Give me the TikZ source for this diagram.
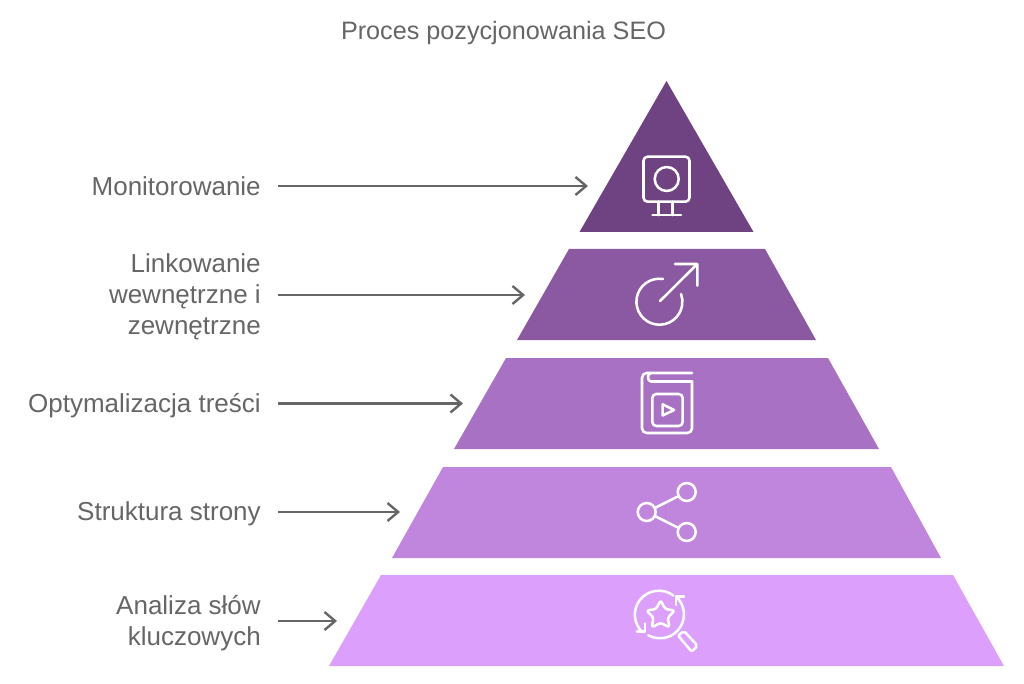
\documentclass[tikz,border=0pt]{standalone}
\usepackage{fontspec}
\setmainfont{Liberation Sans}
\usetikzlibrary{arrows.meta}
\definecolor{txtgray}{HTML}{666666}
\definecolor{lvlA}{HTML}{6F4382}
\definecolor{lvlB}{HTML}{8A59A1}
\definecolor{lvlC}{HTML}{A871C3}
\definecolor{lvlD}{HTML}{C086DD}
\definecolor{lvlE}{HTML}{DC9FFB}
\tikzset{
  lbl/.style={anchor=east,align=right,text=txtgray,inner xsep=12.75pt,inner ysep=0pt,
    font=\fontsize{19.5}{23.25}\selectfont},
  arr/.style={draw=txtgray,line width=1.8pt,-{Straight Barb[length=8pt,width=13.5pt,line width=1.8pt]}},
  ico/.style={draw=white,line width=1.9pt,line cap=round,line join=round},
}
\begin{document}
\begin{tikzpicture}[x=0.75pt,y=-0.75pt]
\useasboundingbox (0,0) rectangle (1024,684);
\node[text=txtgray,font=\fontsize{18.9}{22}\selectfont] (title) at (503.5,32.5) {Proces pozycjonowania SEO};
% pyramid levels
\fill[lvlA] (666.5,81) -- (753.5,232) -- (579.5,232) -- cycle;
\foreach \c/\ya/\yb/\xa/\xb/\xc/\xd in {lvlB/249/340/569/765/816/517,lvlC/358/449/506/828/879/454,
  lvlD/467/558/443/891/941/392,lvlE/575/666/381/953/1004/329}
  \fill[\c] (\xa,\ya) -- (\xb,\ya) -- (\xc,\yb) -- (\xd,\yb) -- cycle;
% labels
\node[lbl] (monitor) at (278,186) {Monitorowanie};
\node[lbl] (link) at (278,297) {Linkowanie\\wewnętrzne i\\zewnętrzne};
\node[lbl] (optim) at (278,405.5) {Optymalizacja treści};
\node[lbl] (struct) at (278,514) {Struktura strony};
\node[lbl] (analiza) at (278,623) {Analiza słów\\kluczowych};
% arrows
\coordinate (tipA) at (588,186);
\coordinate (tipB) at (525,295);
\coordinate (tipC) at (463,403.5);
\coordinate (tipD) at (400,512);
\coordinate (tipE) at (337,621);
\foreach \a/\b in {monitor/tipA,link/tipB,optim/tipC,struct/tipD,analiza/tipE}
  \draw[arr] (\a.east |- \b) -- (\b);
% monitor icon
\draw[ico,rounded corners=3pt] (643.5,156.7) rectangle (689.5,201.7);
\draw[ico] (666.7,179) circle (12);
\draw[ico] (658.3,201.7) -- (658.3,215) (672.7,201.7) -- (672.7,215) (652.5,215) -- (681,215);
% target icon
\draw[ico] (663,279) arc[start angle=-81,end angle=-379.5,radius=23];
\draw[ico] (660,301) -- (697.3,264) (675,264) -- (697.3,264) -- (697.3,285.7);
% book icon
\draw[ico,rounded corners=3.5pt] (692,373) -- (642,373) -- (642,433) -- (692,433) -- (692,381.5);
\draw[ico] (692,381.5) -- (651,381.5) .. controls (647,381.5) and (647,373) .. (651,373);
\draw[ico,rounded corners=3pt] (652.3,394) rectangle (682.7,426);
\draw[ico] (662.7,404.3) -- (662.7,415.5) -- (674,410) -- cycle;
% share icon
\foreach \x/\y in {646.7/512,686.7/492,686.7/532}
  \draw[ico] (\x,\y) circle (9);
\draw[ico] (654.8,508) -- (678.6,496) (654.8,516) -- (678.6,528);
% star icon
\draw[ico] (673.3,595.5) arc[start angle=-53,end angle=-226,radius=24];
\draw[ico] (637,631.7) -- (645,631.7) -- (645,623.5);
\draw[ico] (648.3,635.3) arc[start angle=-241,end angle=-401,radius=24];
\draw[ico] (684,596.7) -- (676,596.7) -- (676,605);
\draw[ico,rounded corners=2pt] (660.7,600) -- (665,609) -- (675,610.5) -- (667.7,617.5) -- (669.5,627.5) -- (660.7,622.7) -- (651.7,627.5) -- (653.5,617.5) -- (646.3,610.5) -- (656.3,609) -- cycle;
\draw[ico,rounded corners=1.5pt] (678,635.5) -- (684,631) -- (697.5,645.7) -- (691.7,651.7) -- cycle;
\end{tikzpicture}
\end{document}
